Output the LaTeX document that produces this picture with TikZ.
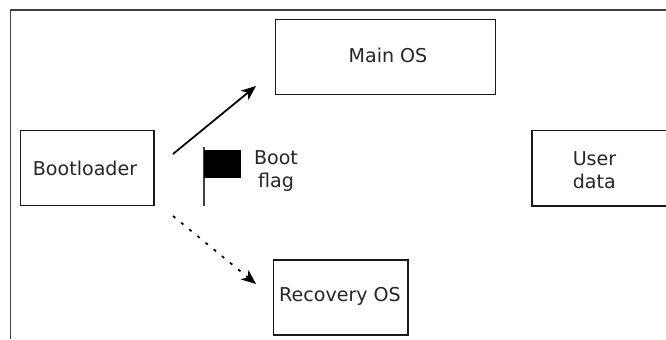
\documentclass[tikz,border=0pt]{standalone}
\usepackage{fontspec}
\setmainfont{DejaVu Sans}
\usetikzlibrary{arrows.meta}
\tikzset{
  box/.style={draw=black!90,line width=1.3pt,fill=white},
  lbl/.style={font=\fontsize{14.3}{17.2}\selectfont,text=black!85,align=left,inner sep=0pt,anchor=center},
  conn/.style={line width=1.3pt,-{Stealth[length=11pt,width=9pt,inset=3pt]}}
}
\begin{document}
\begin{tikzpicture}[x=0.75pt,y=-0.75pt]
\useasboundingbox (0,0) rectangle (666,339);
\draw[line width=1.2pt,draw=black!75] (10.5,339) -- (10.5,10) -- (666,10);
\draw[box] (275.5,19.5) rectangle (495.5,94.5);
\draw[box] (20.5,130.5) rectangle (154,205.5);
\draw[box] (532,130.5) rectangle (680,206);
\draw[box] (273.5,260) rectangle (408,335);
\node[lbl] (mainos) at (388,55) {Main OS};
\node[lbl] (boot) at (85,168) {Bootloader};
\node[lbl] (user) at (594.5,170.5) {User\\data};
\node[lbl] (rec) at (340,296) {Recovery OS};
\node[lbl] (flagtxt) at (276,171) {Boot\\\hspace*{3pt}flag};
\coordinate (as) at (173,154);
\coordinate (ae) at (256,86);
\coordinate (ds) at (173,216);
\coordinate (de) at (256,284);
\draw[conn] (as) -- (ae);
\draw[conn,dash pattern=on 2.2pt off 5.7pt] (ds) -- (de);
\coordinate (pt) at (204,147);
\coordinate (pb) at (204,205.5);
\draw[line width=1.2pt,draw=black!75] (pt) -- (pb);
\fill[black] (204,150) rectangle (240.5,177.5);
\end{tikzpicture}
\end{document}
